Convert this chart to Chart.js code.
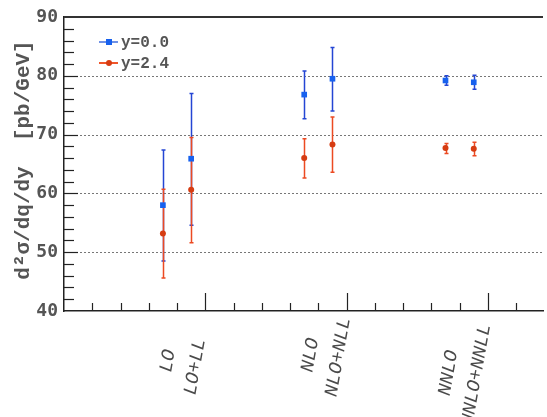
<!DOCTYPE html>
<html>
<head>
<meta charset="utf-8">
<script src="https://cdn.jsdelivr.net/npm/chart.js@4/dist/chart.umd.min.js"></script>
<style>
  html, body { margin: 0; padding: 0; background: #fff; }
  #wrap { width: 547px; height: 417px; }
</style>
</head>
<body>
<div id="wrap"><canvas id="xsec" width="547" height="417"></canvas></div>
<script>
// Orders of the calculation, and where they sit along the x axis
const categories = ['LO', 'LO+LL', 'NLO', 'NLO+NLL', 'NNLO', 'NNLO+NNLL'];
const xPos = [3.5, 4.5, 8.5, 9.5, 13.5, 14.5];

// y = 0.0 : central value, lower and upper edge of the band
const y00 = [58.0, 65.9, 76.8, 79.5, 79.2, 78.9];
const y00Lo = [48.5, 54.6, 72.7, 74.0, 78.4, 77.7];
const y00Hi = [67.4, 77.0, 80.8, 84.8, 80.0, 80.1];

// y = 2.4
const y24 = [53.2, 60.6, 66.0, 68.3, 67.7, 67.6];
const y24Lo = [45.6, 51.6, 62.6, 63.6, 66.8, 66.4];
const y24Hi = [60.7, 69.5, 69.3, 73.0, 68.5, 68.7];

const yTicks = [40, 50, 60, 70, 80, 90];

const blue = '#1761ee';
const blueBar = '#2446d4';
const red = '#d63c12';
const redBar = '#ec4a22';
const textGrey = '#555555';
const monoFont = '"Courier New", "Liberation Mono"';

// small nudges for the slanted category labels (pixels along the label)
const labelShift = [0, 6, -6, -4, 12, 14];

function points(ys) {
    return ys.map((v, i) => ({ x: xPos[i], y: v }));
}

const errorBars = {
    id: 'errorBars',
    beforeDatasetsDraw(chart) {
        const { ctx, chartArea: a, scales: { x, y } } = chart;
        ctx.save();
        // dotted grid
        ctx.strokeStyle = '#777';
        ctx.lineWidth = 1;
        ctx.setLineDash([2, 2]);
        [50, 60, 70, 80].forEach(v => {
            const py = Math.round(y.getPixelForValue(v)) + 0.5;
            ctx.beginPath();
            ctx.moveTo(a.left, py);
            ctx.lineTo(a.right, py);
            ctx.stroke();
        });
        ctx.setLineDash([]);

        const sets = [[y00Lo, y00Hi, blueBar], [y24Lo, y24Hi, redBar]];
        sets.forEach(([lo, hi, col]) => {
            ctx.strokeStyle = col;
            ctx.lineWidth = 1.5;
            xPos.forEach((xv, i) => {
                const px = Math.round(x.getPixelForValue(xv)) + 0.5;
                const p1 = y.getPixelForValue(lo[i]);
                const p2 = y.getPixelForValue(hi[i]);
                ctx.beginPath();
                ctx.moveTo(px, p1); ctx.lineTo(px, p2);
                ctx.moveTo(px - 2, p1); ctx.lineTo(px + 2, p1);
                ctx.moveTo(px - 2, p2); ctx.lineTo(px + 2, p2);
                ctx.stroke();
            });
        });
        ctx.restore();
    },
    afterDraw(chart) {
        const { ctx, chartArea: a, scales: { x, y } } = chart;
        ctx.save();
        ctx.strokeStyle = '#222';
        ctx.lineWidth = 1.2;

        // inward ticks on the y axis, every 2 units
        for (let v = 42; v < 90; v += 2) {
            const py = Math.round(y.getPixelForValue(v)) + 0.5;
            ctx.beginPath();
            ctx.moveTo(a.left, py);
            ctx.lineTo(a.left + (v % 10 === 0 ? 14 : 10), py);
            ctx.stroke();
        }
        // upward ticks on the x axis
        for (let v = 1; v <= 16; v++) {
            const px = Math.round(x.getPixelForValue(v)) + 0.5;
            ctx.beginPath();
            ctx.moveTo(px, a.bottom);
            ctx.lineTo(px, a.bottom - (v % 5 === 0 ? 18 : 8));
            ctx.stroke();
        }
        // top frame line
        ctx.strokeStyle = '#333';
        ctx.lineWidth = 2;
        ctx.beginPath();
        ctx.moveTo(a.left, a.top);
        ctx.lineTo(a.right, a.top);
        ctx.stroke();

        // slanted category labels
        ctx.fillStyle = '#4a4a4a';
        ctx.font = 'italic 19px ' + monoFont;
        ctx.textAlign = 'center';
        ctx.textBaseline = 'middle';
        categories.forEach((c, i) => {
            const px = x.getPixelForValue(xPos[i]) + 5;
            ctx.save();
            ctx.translate(px, 361);
            ctx.rotate(-80 * Math.PI / 180);
            ctx.fillText(c, -labelShift[i], 0);
            ctx.restore();
        });

        // y title
        ctx.save();
        ctx.translate(24, 160);
        ctx.rotate(-Math.PI / 2);
        ctx.fillStyle = textGrey;
        ctx.font = 'bold 21px ' + monoFont;
        ctx.textAlign = 'center';
        ctx.textBaseline = 'middle';
        ctx.fillText('d\u00b2\u03c3/dq/dy  [pb/GeV]', 0, 0);
        ctx.restore();

        // legend
        const entries = [['y=0.0', blue, '#6f92e6', 'rect', 42], ['y=2.4', red, '#f0552a', 'circle', 63]];
        ctx.font = 'bold 16px ' + monoFont;
        ctx.textAlign = 'left';
        ctx.textBaseline = 'middle';
        entries.forEach(([label, col, lineCol, shape, ly]) => {
            ctx.strokeStyle = lineCol;
            ctx.lineWidth = 2;
            ctx.beginPath();
            ctx.moveTo(99, ly); ctx.lineTo(118, ly);
            ctx.stroke();
            ctx.fillStyle = col;
            if (shape === 'rect') {
                ctx.fillRect(106, ly - 3, 6, 6);
            } else {
                ctx.beginPath();
                ctx.arc(109, ly, 3, 0, Math.PI * 2);
                ctx.fill();
            }
            ctx.fillStyle = textGrey;
            ctx.fillText(label, 121, ly + 1);
        });
        ctx.restore();
    }
};

const chart = new Chart(document.getElementById('xsec'), {
    type: 'scatter',
    data: {
        datasets: [
            {
                label: 'y=0.0',
                data: points(y00),
                pointStyle: 'rect',
                pointRadius: 4,
                backgroundColor: blue,
                borderColor: blue,
                borderWidth: 0
            },
            {
                label: 'y=2.4',
                data: points(y24),
                pointStyle: 'circle',
                pointRadius: 3,
                backgroundColor: red,
                borderColor: red,
                borderWidth: 0
            }
        ]
    },
    options: {
        responsive: false,
        animation: false,
        layout: { padding: { top: 17, right: 0, left: 0, bottom: 0 } },
        plugins: {
            legend: { display: false },
            tooltip: { enabled: false }
        },
        scales: {
            x: {
                type: 'linear',
                min: 0,
                max: 16.95,
                grid: { display: false, drawTicks: false },
                border: { display: true, color: '#222', width: 1.5 },
                ticks: { display: false },
                afterFit(scale) { scale.height = 106; }
            },
            y: {
                type: 'linear',
                min: 40,
                max: 90,
                afterBuildTicks(scale) { scale.ticks = yTicks.map(v => ({ value: v })); },
                grid: { display: false, drawTicks: false },
                border: { display: true, color: '#222', width: 1.5 },
                ticks: {
                    color: textGrey,
                    padding: 6,
                    font: { family: '"DejaVu Sans Mono"', size: 18, weight: 'bold' }
                },
                afterFit(scale) { scale.width = 64; }
            }
        }
    },
    plugins: [errorBars]
});
</script>
</body>
</html>
